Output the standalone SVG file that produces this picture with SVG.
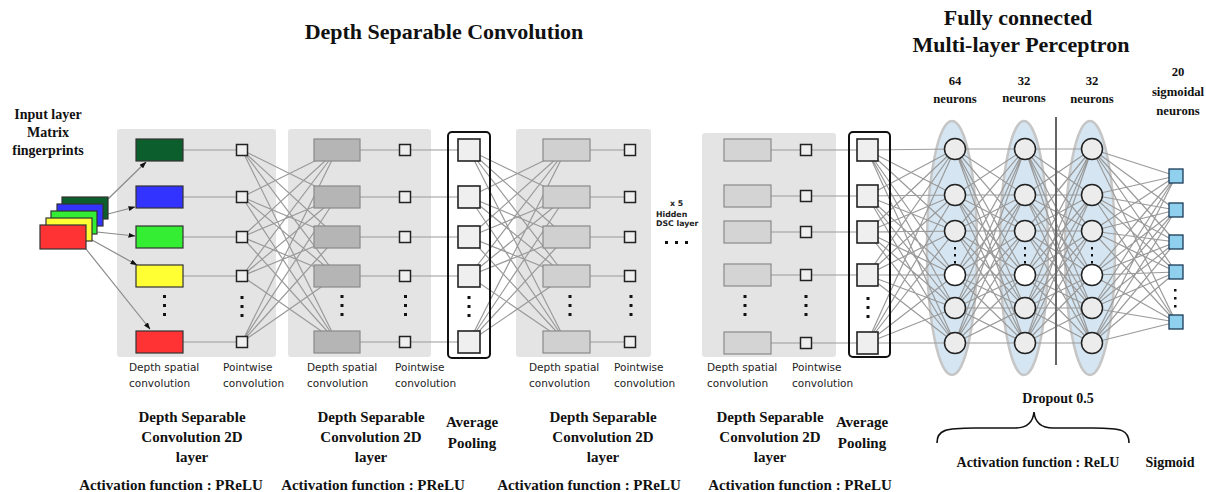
<svg xmlns="http://www.w3.org/2000/svg" width="1206" height="492" viewBox="0 0 1206 492">
  <style>
    .title { font-family: "Liberation Serif", "Times New Roman", serif; font-weight: bold; fill: #111; text-anchor: middle; }
    .lbl { font-family: "Liberation Serif", "Times New Roman", serif; font-weight: bold; fill: #111; text-anchor: middle; }
    .small { font-family: "DejaVu Sans", Verdana, sans-serif; font-size: 10.5px; fill: #222; }
    .tiny { font-family: "DejaVu Sans", Verdana, sans-serif; font-size: 7.8px; font-weight: bold; fill: #222; }
    .panel { fill: #e4e4e4; }
    .pool { fill: none; stroke: #111; stroke-width: 2; }
    .wire { fill: none; stroke: #9a9a9a; stroke-width: 1.2; }
    .pw { fill: #efefef; stroke: #222; stroke-width: 1.5; }
    .ap { fill: #efefef; stroke: #222; stroke-width: 1.6; }
    .r2 { fill: #b5b5b5; stroke: #8a8a8a; stroke-width: 1.2; }
    .r3 { fill: #d0d0d0; stroke: #8a8a8a; stroke-width: 1.2; }
    .r4 { fill: #d4d4d4; stroke: #8a8a8a; stroke-width: 1.2; }
    .in { stroke: #333; stroke-width: 1.2; }
    .dot { fill: #111; }
    .ell { fill: #d5e6f2; stroke: #c6c6c6; stroke-width: 2.5; }
    .neu { fill: #ececec; stroke: #222; stroke-width: 1.5; }
    .blank { fill: #fff; }
    .out { fill: #8fd0ee; stroke: #1b3a57; stroke-width: 1.3; }
    .arrow { fill: none; stroke: #8a8a8a; stroke-width: 1.2; }
  </style>
  <defs>
    <marker id="head" markerWidth="7" markerHeight="5" refX="6.5" refY="2.5" orient="auto" markerUnits="userSpaceOnUse">
      <path d="M0,0 L7,2.5 L0,5 Z" fill="#111"/>
    </marker>
  </defs>

  <rect width="1206" height="492" fill="#fff"/>

  <!-- titles -->
  <text class="title" x="444" y="39" font-size="22">Depth Separable Convolution</text>
  <text class="title" x="1018" y="25" font-size="22">Fully connected</text>
  <text class="title" x="1021" y="52" font-size="22">Multi-layer Perceptron</text>

  <!-- grey panels behind each depthwise-separable block -->
  <g id="panels">
    <rect class="panel" x="117" y="129" width="159" height="228" rx="3"/>
    <rect class="panel" x="288" y="129" width="143" height="228" rx="3"/>
    <rect class="panel" x="516" y="129" width="135" height="228" rx="3"/>
    <rect class="panel" x="702" y="133" width="134" height="224" rx="3"/>
  </g>

  <!-- MLP layer ellipses -->
  <g id="mlp-ellipses">
    <ellipse class="ell" cx="952" cy="248" rx="25" ry="127"/>
    <ellipse class="ell" cx="1024" cy="248" rx="24" ry="127"/>
    <ellipse class="ell" cx="1090" cy="248" rx="25" ry="127"/>
  </g>

  <!-- connectors -->
  <g id="connectors">
    <!-- input stack to first depth spatial column -->
    <path class="arrow" d="M108 199L146 162" marker-end="url(#head)"/>
    <path class="arrow" d="M108 214L135 207" marker-end="url(#head)"/>
    <path class="arrow" d="M97 232L135 236" marker-end="url(#head)"/>
    <path class="arrow" d="M92 240L137 265" marker-end="url(#head)"/>
    <path class="arrow" d="M86 249L150 329" marker-end="url(#head)"/>

    <!-- straight row links -->
    <path class="wire" d="M159 150H242M159 197H242M159 237H242M159 276H242M159 342H242
                          M337 150H469M337 197H469M337 237H469M337 276H469M337 342H469
                          M566 150H630M566 197H630M566 237H630M566 276H630M566 342H630
                          M747 150H867M747 196H867M747 232H867M747 275H867M747 343H867"/>

    <!-- block 1 pointwise to block 2 depth spatial (full) -->
    <path class="wire" d="M242 150L337 197M242 150L337 237M242 150L337 276M242 150L337 342
                          M242 197L337 150M242 197L337 237M242 197L337 276M242 197L337 342
                          M242 237L337 150M242 237L337 197M242 237L337 276M242 237L337 342
                          M242 276L337 150M242 276L337 197M242 276L337 237M242 276L337 342
                          M242 342L337 150M242 342L337 197M242 342L337 237M242 342L337 276"/>

    <!-- pooling 1 to block 3 depth spatial (full) -->
    <path class="wire" d="M469 150L566 197M469 150L566 237M469 150L566 276M469 150L566 342
                          M469 197L566 150M469 197L566 237M469 197L566 276M469 197L566 342
                          M469 237L566 150M469 237L566 197M469 237L566 276M469 237L566 342
                          M469 276L566 150M469 276L566 197M469 276L566 237M469 276L566 342
                          M469 342L566 150M469 342L566 197M469 342L566 237M469 342L566 276"/>

    <!-- pooling 2 to dense layer 1 -->
    <path class="wire" d="M867 150L955 149M867 150L955 195M867 150L955 231M867 150L955 275M867 150L955 308M867 150L955 343
                          M867 196L955 149M867 196L955 195M867 196L955 231M867 196L955 275M867 196L955 308M867 196L955 343
                          M867 232L955 149M867 232L955 195M867 232L955 231M867 232L955 275M867 232L955 308M867 232L955 343
                          M867 275L955 149M867 275L955 195M867 275L955 231M867 275L955 275M867 275L955 308M867 275L955 343
                          M867 343L955 149M867 343L955 195M867 343L955 231M867 343L955 275M867 343L955 308M867 343L955 343"/>

    <!-- dense layer 1 to dense layer 2 -->
    <path class="wire" d="M955 149L1025 149M955 149L1025 195M955 149L1025 231M955 149L1025 275M955 149L1025 308M955 149L1025 343
                          M955 195L1025 149M955 195L1025 195M955 195L1025 231M955 195L1025 275M955 195L1025 308M955 195L1025 343
                          M955 231L1025 149M955 231L1025 195M955 231L1025 231M955 231L1025 275M955 231L1025 308M955 231L1025 343
                          M955 275L1025 149M955 275L1025 195M955 275L1025 231M955 275L1025 275M955 275L1025 308M955 275L1025 343
                          M955 308L1025 149M955 308L1025 195M955 308L1025 231M955 308L1025 275M955 308L1025 308M955 308L1025 343
                          M955 343L1025 149M955 343L1025 195M955 343L1025 231M955 343L1025 275M955 343L1025 308M955 343L1025 343"/>

    <!-- dense layer 2 to dense layer 3 -->
    <path class="wire" d="M1025 149L1092 149M1025 149L1092 195M1025 149L1092 231M1025 149L1092 275M1025 149L1092 308M1025 149L1092 343
                          M1025 195L1092 149M1025 195L1092 195M1025 195L1092 231M1025 195L1092 275M1025 195L1092 308M1025 195L1092 343
                          M1025 231L1092 149M1025 231L1092 195M1025 231L1092 231M1025 231L1092 275M1025 231L1092 308M1025 231L1092 343
                          M1025 275L1092 149M1025 275L1092 195M1025 275L1092 231M1025 275L1092 275M1025 275L1092 308M1025 275L1092 343
                          M1025 308L1092 149M1025 308L1092 195M1025 308L1092 231M1025 308L1092 275M1025 308L1092 308M1025 308L1092 343
                          M1025 343L1092 149M1025 343L1092 195M1025 343L1092 231M1025 343L1092 275M1025 343L1092 308M1025 343L1092 343"/>

    <!-- dense layer 3 to sigmoid outputs -->
    <path class="wire" d="M1092 149L1176 176M1092 149L1176 210M1092 149L1176 242M1092 149L1176 272M1092 149L1176 322
                           M1092 195L1176 176M1092 195L1176 210M1092 195L1176 242M1092 195L1176 272M1092 195L1176 322
                           M1092 231L1176 176M1092 231L1176 210M1092 231L1176 242M1092 231L1176 272M1092 231L1176 322
                           M1092 275L1176 176M1092 275L1176 210M1092 275L1176 242M1092 275L1176 272M1092 275L1176 322
                           M1092 308L1176 176M1092 308L1176 210M1092 308L1176 242M1092 308L1176 272M1092 308L1176 322
                           M1092 343L1176 176M1092 343L1176 210M1092 343L1176 242M1092 343L1176 272M1092 343L1176 322"/>

    <!-- dropout divider -->
    <line x1="1056" y1="117" x2="1056" y2="365" stroke="#666" stroke-width="2"/>
  </g>

  <!-- input matrix fingerprints -->
  <g id="input">
    <text class="lbl" x="48" y="119" font-size="14">Input layer</text>
    <text class="lbl" x="48" y="137" font-size="14">Matrix</text>
    <text class="lbl" x="48" y="155" font-size="14">fingerprints</text>
    <rect class="in" x="62" y="197" width="46" height="22" fill="#0c5f2c"/>
    <rect class="in" x="57" y="204" width="46" height="22" fill="#3333ff"/>
    <rect class="in" x="51" y="211" width="46" height="23" fill="#33ee33"/>
    <rect class="in" x="46" y="218" width="46" height="23" fill="#ffff33"/>
    <rect class="in" x="40" y="225" width="46" height="24" fill="#ff3333"/>
  </g>

  <!-- block 1: depth spatial + pointwise -->
  <g id="dsc1">
    <rect class="in" x="136" y="139" width="47" height="22" fill="#0c5f2c"/>
    <rect class="in" x="136" y="186" width="47" height="22" fill="#3333ff"/>
    <rect class="in" x="136" y="226" width="47" height="22" fill="#33ee33"/>
    <rect class="in" x="136" y="265" width="47" height="22" fill="#ffff33"/>
    <rect class="in" x="136" y="331" width="47" height="22" fill="#ff3333"/>
    <rect class="dot" x="163" y="295" width="3" height="3"/>
    <rect class="dot" x="163" y="304" width="3" height="3"/>
    <rect class="dot" x="163" y="313" width="3" height="3"/>
    <rect class="pw" x="236.5" y="144.5" width="11" height="11"/>
    <rect class="pw" x="236.5" y="191.5" width="11" height="11"/>
    <rect class="pw" x="236.5" y="231.5" width="11" height="11"/>
    <rect class="pw" x="236.5" y="270.5" width="11" height="11"/>
    <rect class="pw" x="236.5" y="336.5" width="11" height="11"/>
    <rect class="dot" x="240.5" y="296" width="3" height="3"/>
    <rect class="dot" x="240.5" y="305" width="3" height="3"/>
    <rect class="dot" x="240.5" y="314" width="3" height="3"/>
    <text class="small" x="129" y="371">Depth spatial</text>
    <text class="small" x="129" y="387">convolution</text>
    <text class="small" x="223" y="371">Pointwise</text>
    <text class="small" x="223" y="387">convolution</text>
  </g>

  <!-- block 2 -->
  <g id="dsc2">
    <rect class="r2" x="314" y="139" width="46" height="22"/>
    <rect class="r2" x="314" y="186" width="46" height="22"/>
    <rect class="r2" x="314" y="226" width="46" height="22"/>
    <rect class="r2" x="314" y="265" width="46" height="22"/>
    <rect class="r2" x="314" y="331" width="46" height="22"/>
    <rect class="dot" x="340.5" y="295" width="3" height="3"/>
    <rect class="dot" x="340.5" y="304" width="3" height="3"/>
    <rect class="dot" x="340.5" y="313" width="3" height="3"/>
    <rect class="pw" x="399.5" y="144.5" width="11" height="11"/>
    <rect class="pw" x="399.5" y="191.5" width="11" height="11"/>
    <rect class="pw" x="399.5" y="231.5" width="11" height="11"/>
    <rect class="pw" x="399.5" y="270.5" width="11" height="11"/>
    <rect class="pw" x="399.5" y="336.5" width="11" height="11"/>
    <rect class="dot" x="404" y="295" width="3" height="3"/>
    <rect class="dot" x="404" y="304" width="3" height="3"/>
    <rect class="dot" x="404" y="313" width="3" height="3"/>
    <text class="small" x="307" y="371">Depth spatial</text>
    <text class="small" x="307" y="387">convolution</text>
    <text class="small" x="395" y="371">Pointwise</text>
    <text class="small" x="395" y="387">convolution</text>
  </g>

  <!-- average pooling 1 -->
  <g id="pool1">
    <rect class="pool" x="448" y="132" width="42" height="226" rx="4"/>
    <rect class="ap" x="458" y="139" width="22" height="22"/>
    <rect class="ap" x="458" y="186" width="22" height="22"/>
    <rect class="ap" x="458" y="226" width="22" height="22"/>
    <rect class="ap" x="458" y="265" width="22" height="22"/>
    <rect class="ap" x="458" y="331" width="22" height="22"/>
    <rect class="dot" x="467.5" y="296" width="3" height="3"/>
    <rect class="dot" x="467.5" y="305" width="3" height="3"/>
    <rect class="dot" x="467.5" y="314" width="3" height="3"/>
  </g>

  <!-- block 3 -->
  <g id="dsc3">
    <rect class="r3" x="543" y="139" width="47" height="22"/>
    <rect class="r3" x="543" y="186" width="47" height="22"/>
    <rect class="r3" x="543" y="226" width="47" height="22"/>
    <rect class="r3" x="543" y="265" width="47" height="22"/>
    <rect class="r3" x="543" y="331" width="47" height="22"/>
    <rect class="dot" x="568.5" y="295" width="3" height="3"/>
    <rect class="dot" x="568.5" y="304" width="3" height="3"/>
    <rect class="dot" x="568.5" y="313" width="3" height="3"/>
    <rect class="pw" x="624.5" y="144.5" width="11" height="11"/>
    <rect class="pw" x="624.5" y="191.5" width="11" height="11"/>
    <rect class="pw" x="624.5" y="231.5" width="11" height="11"/>
    <rect class="pw" x="624.5" y="270.5" width="11" height="11"/>
    <rect class="pw" x="624.5" y="336.5" width="11" height="11"/>
    <rect class="dot" x="629.5" y="295" width="3" height="3"/>
    <rect class="dot" x="629.5" y="304" width="3" height="3"/>
    <rect class="dot" x="629.5" y="313" width="3" height="3"/>
    <text class="small" x="529" y="371">Depth spatial</text>
    <text class="small" x="529" y="387">convolution</text>
    <text class="small" x="614" y="371">Pointwise</text>
    <text class="small" x="614" y="387">convolution</text>
  </g>

  <!-- repeated hidden layers marker -->
  <g id="hidden-repeat">
    <text class="tiny" x="670" y="206">x 5</text>
    <text class="tiny" x="656" y="217">Hidden</text>
    <text class="tiny" x="656" y="226">DSC layer</text>
    <rect class="dot" x="665" y="241" width="3" height="3"/>
    <rect class="dot" x="675" y="241" width="3" height="3"/>
    <rect class="dot" x="685" y="241" width="3" height="3"/>
  </g>

  <!-- block 4 -->
  <g id="dsc4">
    <rect class="r4" x="724" y="139" width="47" height="22"/>
    <rect class="r4" x="724" y="185" width="47" height="22"/>
    <rect class="r4" x="724" y="221" width="47" height="22"/>
    <rect class="r4" x="724" y="264" width="47" height="22"/>
    <rect class="r4" x="724" y="332" width="47" height="22"/>
    <rect class="dot" x="743.5" y="295" width="3" height="3"/>
    <rect class="dot" x="743.5" y="304" width="3" height="3"/>
    <rect class="dot" x="743.5" y="313" width="3" height="3"/>
    <rect class="pw" x="800.5" y="144.5" width="11" height="11"/>
    <rect class="pw" x="800.5" y="190.5" width="11" height="11"/>
    <rect class="pw" x="800.5" y="226.5" width="11" height="11"/>
    <rect class="pw" x="800.5" y="269.5" width="11" height="11"/>
    <rect class="pw" x="800.5" y="337.5" width="11" height="11"/>
    <rect class="dot" x="804.5" y="295" width="3" height="3"/>
    <rect class="dot" x="804.5" y="304" width="3" height="3"/>
    <rect class="dot" x="804.5" y="313" width="3" height="3"/>
    <text class="small" x="707" y="371">Depth spatial</text>
    <text class="small" x="707" y="387">convolution</text>
    <text class="small" x="792" y="371">Pointwise</text>
    <text class="small" x="792" y="387">convolution</text>
  </g>

  <!-- average pooling 2 -->
  <g id="pool2">
    <rect class="pool" x="849" y="132" width="41" height="225" rx="4"/>
    <rect class="ap" x="857" y="139" width="21" height="22"/>
    <rect class="ap" x="857" y="185" width="21" height="22"/>
    <rect class="ap" x="857" y="221" width="21" height="22"/>
    <rect class="ap" x="857" y="264" width="21" height="22"/>
    <rect class="ap" x="857" y="332" width="21" height="22"/>
    <rect class="dot" x="866.5" y="297" width="3" height="3"/>
    <rect class="dot" x="866.5" y="306" width="3" height="3"/>
    <rect class="dot" x="866.5" y="315" width="3" height="3"/>
  </g>

  <!-- dense layer 1: 64 neurons -->
  <g id="dense1">
    <text class="lbl" x="955" y="85" font-size="12.7">64</text>
    <text class="lbl" x="955" y="103" font-size="12.7">neurons</text>
    <circle class="neu" cx="955" cy="149" r="10.5"/>
    <circle class="neu" cx="955" cy="195" r="10.5"/>
    <circle class="neu" cx="955" cy="231" r="10.5"/>
    <circle class="neu blank" cx="955" cy="275" r="10.5"/>
    <circle class="neu" cx="955" cy="308" r="10.5"/>
    <circle class="neu" cx="955" cy="343" r="10.5"/>
    <rect class="dot" x="954" y="247" width="2" height="2.5"/>
    <rect class="dot" x="954" y="254" width="2" height="2.5"/>
    <rect class="dot" x="954" y="261" width="2" height="2.5"/>
  </g>

  <!-- dense layer 2: 32 neurons -->
  <g id="dense2">
    <text class="lbl" x="1024" y="85" font-size="12.7">32</text>
    <text class="lbl" x="1024" y="102" font-size="12.7">neurons</text>
    <circle class="neu" cx="1025" cy="149" r="10.5"/>
    <circle class="neu" cx="1025" cy="195" r="10.5"/>
    <circle class="neu" cx="1025" cy="231" r="10.5"/>
    <circle class="neu blank" cx="1025" cy="275" r="10.5"/>
    <circle class="neu" cx="1025" cy="308" r="10.5"/>
    <circle class="neu" cx="1025" cy="343" r="10.5"/>
    <rect class="dot" x="1024" y="247" width="2" height="2.5"/>
    <rect class="dot" x="1024" y="254" width="2" height="2.5"/>
    <rect class="dot" x="1024" y="261" width="2" height="2.5"/>
  </g>

  <!-- dense layer 3: 32 neurons -->
  <g id="dense3">
    <text class="lbl" x="1092" y="85" font-size="12.7">32</text>
    <text class="lbl" x="1092" y="103" font-size="12.7">neurons</text>
    <circle class="neu" cx="1092" cy="149" r="10.5"/>
    <circle class="neu" cx="1092" cy="195" r="10.5"/>
    <circle class="neu" cx="1092" cy="231" r="10.5"/>
    <circle class="neu blank" cx="1092" cy="275" r="10.5"/>
    <circle class="neu" cx="1092" cy="308" r="10.5"/>
    <circle class="neu" cx="1092" cy="343" r="10.5"/>
    <rect class="dot" x="1091" y="247" width="2" height="2.5"/>
    <rect class="dot" x="1091" y="254" width="2" height="2.5"/>
    <rect class="dot" x="1091" y="261" width="2" height="2.5"/>
  </g>

  <!-- sigmoid output layer -->
  <g id="output">
    <text class="lbl" x="1178" y="76" font-size="12.7">20</text>
    <text class="lbl" x="1178" y="96" font-size="12.7">sigmoidal</text>
    <text class="lbl" x="1178" y="115" font-size="12.7">neurons</text>
    <rect class="out" x="1169" y="169" width="14" height="14"/>
    <rect class="out" x="1169" y="203" width="14" height="14"/>
    <rect class="out" x="1169" y="235" width="14" height="14"/>
    <rect class="out" x="1169" y="265" width="14" height="14"/>
    <rect class="out" x="1169" y="315" width="14" height="14"/>
    <rect class="dot" x="1174" y="289" width="2.5" height="2.5"/>
    <rect class="dot" x="1174" y="297" width="2.5" height="2.5"/>
    <rect class="dot" x="1174" y="305" width="2.5" height="2.5"/>
  </g>

  <!-- layer captions -->
  <g id="captions">
    <text class="lbl" x="192" y="422" font-size="15">Depth Separable</text>
    <text class="lbl" x="192" y="442" font-size="15">Convolution 2D</text>
    <text class="lbl" x="192" y="462" font-size="15">layer</text>
    <text class="lbl" x="171" y="490" font-size="15">Activation function : PReLU</text>

    <text class="lbl" x="371" y="422" font-size="15">Depth Separable</text>
    <text class="lbl" x="371" y="442" font-size="15">Convolution 2D</text>
    <text class="lbl" x="371" y="462" font-size="15">layer</text>
    <text class="lbl" x="373" y="490" font-size="15">Activation function : PReLU</text>

    <text class="lbl" x="472" y="427" font-size="15">Average</text>
    <text class="lbl" x="472" y="448" font-size="15">Pooling</text>

    <text class="lbl" x="603" y="422" font-size="15">Depth Separable</text>
    <text class="lbl" x="603" y="442" font-size="15">Convolution 2D</text>
    <text class="lbl" x="603" y="462" font-size="15">layer</text>
    <text class="lbl" x="589" y="490" font-size="15">Activation function : PReLU</text>

    <text class="lbl" x="770" y="422" font-size="15">Depth Separable</text>
    <text class="lbl" x="770" y="442" font-size="15">Convolution 2D</text>
    <text class="lbl" x="770" y="462" font-size="15">layer</text>
    <text class="lbl" x="800" y="490" font-size="15">Activation function : PReLU</text>

    <text class="lbl" x="862" y="427" font-size="15">Average</text>
    <text class="lbl" x="862" y="448" font-size="15">Pooling</text>

    <text class="lbl" x="1058" y="403" font-size="14">Dropout 0.5</text>
    <path d="M937 443 C937 430 945 428 975 428 L1015 428 C1028 428 1033 422 1034 412 C1035 422 1040 428 1053 428 L1093 428 C1122 428 1129 430 1129 443" fill="none" stroke="#111" stroke-width="1.6"/>
    <text class="lbl" x="1038" y="467" font-size="14">Activation function : ReLU</text>
    <text class="lbl" x="1170" y="467" font-size="14">Sigmoid</text>
  </g>
</svg>
